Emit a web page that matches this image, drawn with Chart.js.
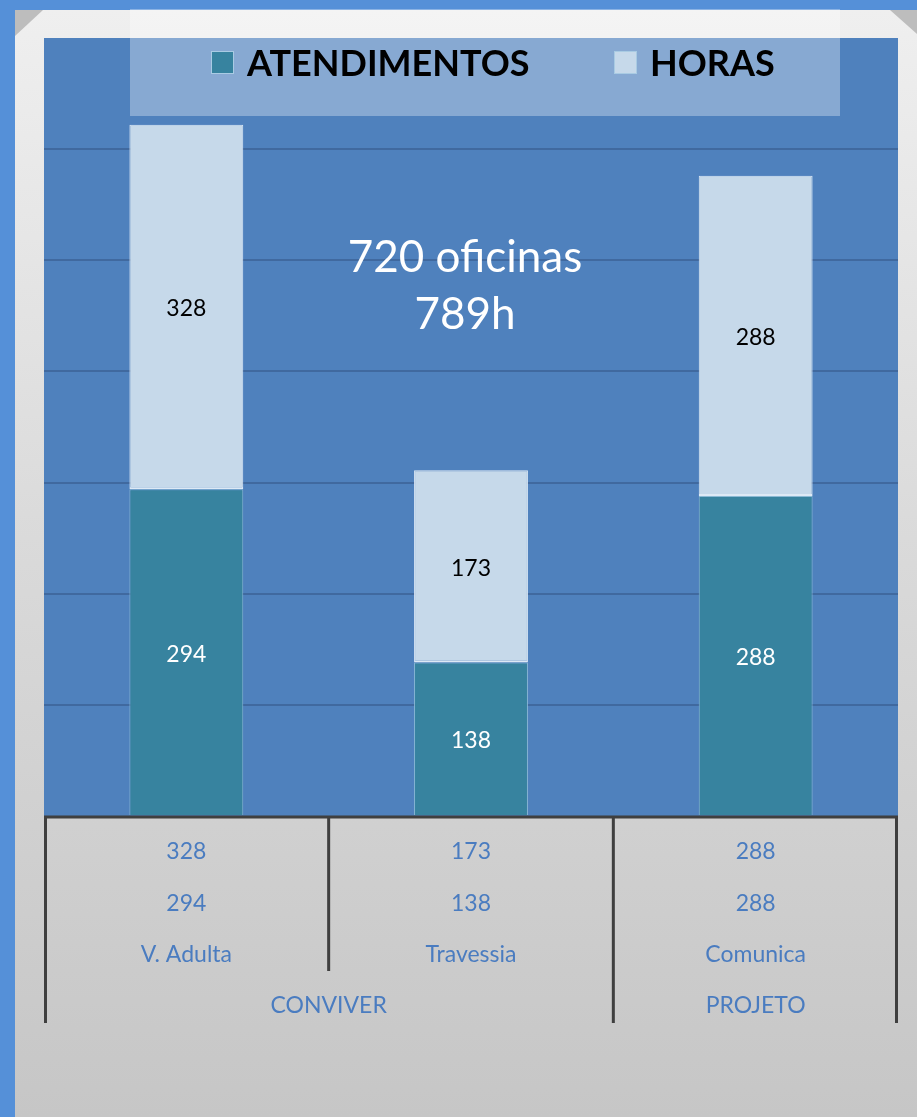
<!DOCTYPE html>
<html>
<head>
<meta charset="utf-8">
<script src="https://cdn.jsdelivr.net/npm/chart.js@4.4.1/dist/chart.umd.min.js"></script>
<style>
  html, body { margin: 0; padding: 0; background: #5590d8; }
  #wrap { position: relative; width: 917px; height: 1117px; }
  canvas { display: block; }
</style>
</head>
<body>
<div id="wrap"><canvas id="c" width="917" height="1117"></canvas></div>
<script>
// ---- data ----
const categories = ['V. Adulta', 'Travessia', 'Comunica'];
const groupLabels = ['CONVIVER', 'PROJETO'];
const groupSpans = [2, 1];
const atendimentos = [294, 138, 288];
const horas = [328, 173, 288];
const seriesNames = ['ATENDIMENTOS', 'HORAS'];
const noteLines = ['720 oficinas', '789h'];
const yMax = 700;
const yStep = 100;

const FONT = 'Lato, "Open Sans", sans-serif';
const COL_ATEND = '#37839f';
const COL_HORAS = '#c6d9ea';

const backgroundPlugin = {
  id: 'bg',
  beforeDraw(chart) {
    const ctx = chart.ctx;
    const W = chart.width, H = chart.height;
    const a = chart.chartArea;
    ctx.save();
    ctx.fillStyle = '#5590d8';
    ctx.fillRect(0, 0, W, H);
    ctx.fillStyle = '#bdbdbd';
    ctx.fillRect(15, 10, W - 15, H - 10);
    const g = ctx.createLinearGradient(0, 10, 0, H);
    g.addColorStop(0, '#efefef');
    g.addColorStop(0.5, '#d9d9d9');
    g.addColorStop(1, '#c6c6c6');
    ctx.fillStyle = g;
    ctx.beginPath();
    ctx.moveTo(15, 36);
    ctx.lineTo(43, 10);
    ctx.lineTo(890, 10);
    ctx.lineTo(917, 34);
    ctx.lineTo(917, H);
    ctx.lineTo(15, H);
    ctx.closePath();
    ctx.fill();
    ctx.fillStyle = '#4f81bd';
    ctx.fillRect(a.left, a.top, a.right - a.left, a.bottom - a.top);
    ctx.restore();
  }
};

const overlayPlugin = {
  id: 'overlay',
  afterDatasetsDraw(chart) {
    const ctx = chart.ctx;
    const a = chart.chartArea;
    const x = chart.scales.x;
    ctx.save();
    // value labels inside bars
    ctx.textAlign = 'center';
    ctx.textBaseline = 'middle';
    ctx.font = '23px ' + FONT;
    chart.data.datasets.forEach((ds, di) => {
      const meta = chart.getDatasetMeta(di);
      meta.data.forEach((bar, i) => {
        const p = bar.getProps(['x', 'y', 'base'], true);
        ctx.fillStyle = di === 0 ? '#ffffff' : '#000000';
        ctx.fillText(String(ds.data[i]), p.x, (p.y + p.base) / 2 + 2);
      });
    });
    // annotation text
    ctx.fillStyle = '#ffffff';
    ctx.font = '44px ' + FONT;
    ctx.fillText(noteLines[0], 465, 258);
    ctx.fillText(noteLines[1], 465, 315);

    // legend box
    ctx.fillStyle = 'rgba(255,255,255,0.32)';
    ctx.fillRect(130, 9, 710, 107);
    ctx.textAlign = 'left';
    ctx.font = 'bold 36px ' + FONT;
    const legendX = [211, 614];
    chart.data.datasets.forEach((ds, di) => {
      const lx = legendX[di];
      ctx.fillStyle = ds.backgroundColor;
      ctx.fillRect(lx, 51, 23, 23);
      ctx.strokeStyle = '#a9cbe3';
      ctx.lineWidth = 1;
      ctx.strokeRect(lx + 0.5, 51.5, 22, 22);
      ctx.fillStyle = '#000000';
      ctx.fillText(ds.label, lx + 36, 64);
    });

    // data table under the axis
    const n = categories.length;
    const half = (x.getPixelForValue(1) - x.getPixelForValue(0)) / 2;
    const rowY = [852, 904, 955, 1006];
    ctx.textAlign = 'center';
    ctx.fillStyle = '#4a7cc0';
    ctx.font = '23px ' + FONT;
    for (let i = 0; i < n; i++) {
      const cx = x.getPixelForValue(i);
      ctx.fillText(String(horas[i]), cx, rowY[0]);
      ctx.fillText(String(atendimentos[i]), cx, rowY[1]);
      ctx.fillText(categories[i], cx, rowY[2]);
    }
    let start = 0;
    const groupEdges = [];
    groupLabels.forEach((lab, gi) => {
      const end = start + groupSpans[gi] - 1;
      const l = x.getPixelForValue(start) - half;
      const r = x.getPixelForValue(end) + half;
      ctx.fillText(lab, (l + r) / 2, rowY[3]);
      groupEdges.push(start);
      start = end + 1;
    });

    // table lines
    ctx.strokeStyle = '#3f3f3f';
    ctx.lineWidth = 3;
    ctx.beginPath();
    ctx.moveTo(a.left, a.bottom + 1);
    ctx.lineTo(a.right, a.bottom + 1);
    for (let i = 0; i <= n; i++) {
      const px = i < n ? x.getPixelForValue(i) - half : x.getPixelForValue(n - 1) + half;
      const isGroupEdge = i === n || groupEdges.indexOf(i) >= 0;
      const xx = i === 0 ? a.left + 1.5 : (i === n ? a.right - 1.5 : px);
      ctx.moveTo(xx, a.bottom);
      ctx.lineTo(xx, isGroupEdge ? 1023 : 971);
    }
    ctx.stroke();
    ctx.restore();
  }
};

new Chart(document.getElementById('c'), {
  type: 'bar',
  data: {
    labels: categories,
    datasets: [
      { label: seriesNames[0], data: atendimentos, backgroundColor: COL_ATEND,
        borderColor: '#8ab9d4', borderWidth: { left: 1, right: 1, top: 1, bottom: 0 }, borderSkipped: false },
      { label: seriesNames[1], data: horas, backgroundColor: COL_HORAS,
        borderColor: '#dde9f5', borderWidth: { left: 1, right: 1, top: 1, bottom: 2 }, borderSkipped: false }
    ]
  },
  options: {
    responsive: false,
    animation: false,
    devicePixelRatio: 1,
    layout: { padding: { left: 44, top: 38, right: 19, bottom: 301 } },
    plugins: { legend: { display: false }, tooltip: { enabled: false } },
    datasets: { bar: { categoryPercentage: 1, barPercentage: 0.4 } },
    scales: {
      x: { stacked: true, display: false },
      y: {
        stacked: true, min: 0, max: yMax,
        ticks: { display: false, stepSize: yStep },
        grid: {
          color: (c) => (c.tick && (c.tick.value === yMax || c.tick.value === 0)) ? 'rgba(0,0,0,0)' : '#40699f',
          lineWidth: 2, drawTicks: false
        },
        border: { display: false }
      }
    }
  },
  plugins: [backgroundPlugin, overlayPlugin]
});
</script>
</body>
</html>
